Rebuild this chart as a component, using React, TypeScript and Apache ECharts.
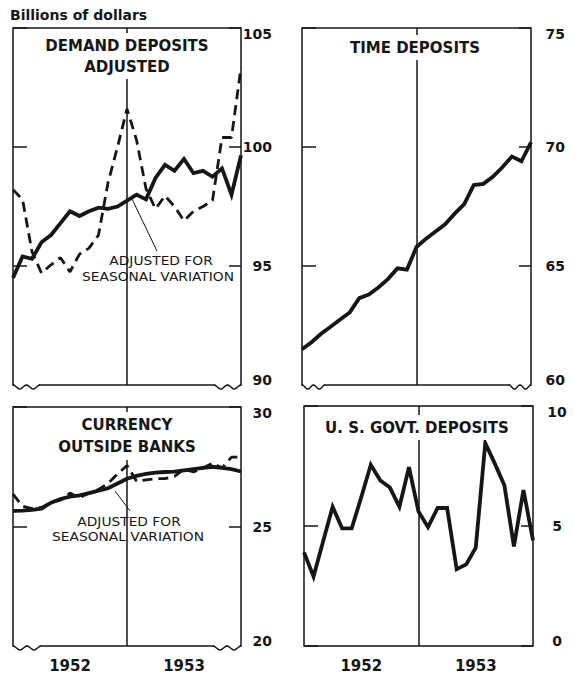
import React, { useEffect, useRef } from "react";
import * as echarts from "echarts";

// Monthly observations, end of Dec 1951 through end of Dec 1953
const months = [
  "1951-12", "1952-01", "1952-02", "1952-03", "1952-04", "1952-05", "1952-06",
  "1952-07", "1952-08", "1952-09", "1952-10", "1952-11", "1952-12",
  "1953-01", "1953-02", "1953-03", "1953-04", "1953-05", "1953-06",
  "1953-07", "1953-08", "1953-09", "1953-10", "1953-11", "1953-12",
];
const yearLabels = ["1952", "1953"];
const yearPositions = [6, 18];
const dividerAt = 12;

// Demand deposits adjusted (billions of dollars)
const demandAdjusted = [94.5, 95.4, 95.3, 96.0, 96.3, 96.8, 97.3, 97.1, 97.3, 97.45, 97.4, 97.5, 97.75, 98.0, 97.8, 98.7, 99.25, 99.0, 99.5, 98.9, 99.0, 98.75, 99.1, 98.0, 99.65];
const demandUnadjusted = [98.2, 97.8, 95.6, 94.7, 95.05, 95.35, 94.75, 95.5, 95.75, 96.3, 98.5, 100.0, 101.6, 100.3, 98.25, 97.4, 97.95, 97.5, 96.9, 97.3, 97.5, 97.75, 100.4, 100.4, 103.35];
// Time deposits
const timeDeposits = [61.5, 61.8, 62.15, 62.45, 62.75, 63.05, 63.65, 63.8, 64.1, 64.45, 64.9, 64.85, 65.8, 66.15, 66.45, 66.75, 67.2, 67.6, 68.4, 68.45, 68.75, 69.15, 69.6, 69.4, 70.2];
// Currency outside banks
const currencyAdjusted = [25.65, 25.66, 25.7, 25.75, 26.0, 26.15, 26.25, 26.3, 26.4, 26.5, 26.6, 26.8, 27.0, 27.12, 27.2, 27.25, 27.28, 27.3, 27.35, 27.4, 27.45, 27.5, 27.45, 27.4, 27.3];
const currencyUnadjusted = [26.35, 25.85, 25.75, 25.8, 26.0, 26.1, 26.4, 26.2, 26.4, 26.55, 26.8, 27.2, 27.55, 26.9, 26.95, 27.0, 27.0, 27.1, 27.4, 27.28, 27.45, 27.65, 27.45, 27.9, 27.9];
// U.S. Government deposits
const govtDeposits = [3.9, 2.9, 4.35, 5.8, 4.9, 4.9, 6.2, 7.55, 6.9, 6.6, 5.8, 7.45, 5.6, 4.95, 5.75, 5.75, 3.2, 3.4, 4.1, 8.45, 7.6, 6.7, 4.15, 6.5, 4.4];

const yRanges = [
  { min: 90, max: 105, interval: 5 },
  { min: 60, max: 75, interval: 5 },
  { min: 20, max: 30, interval: 5 },
  { min: 0, max: 10, interval: 5 },
];

const INK = "#161616";
const FONT = '"DejaVu Sans", sans-serif';

const pairs = (arr: number[]) => months.map((_, i) => [i, arr[i]]);

export default function App() {
  const ref = useRef<HTMLDivElement>(null);

  useEffect(() => {
    if (!ref.current) return;
    const chart = echarts.init(ref.current, undefined, { renderer: "svg" });

    const grids = [
      { left: 13, top: 28, width: 228, height: 357 },
      { left: 302, top: 28, width: 229, height: 357 },
      { left: 13, top: 407, width: 228, height: 239 },
      { left: 304, top: 406, width: 229, height: 240 },
    ].map((g) => ({
      ...g,
      show: true,
      borderColor: INK,
      borderWidth: 1.5,
      backgroundColor: "transparent",
      containLabel: false,
      outerBoundsMode: "none",
    }));

    const labelMargins = [31, 34, 31, 24];
    const labelAligns = ["right", "right", "right", "center"];

    const xAxes = grids.map((_, g) => ({
      type: "value",
      gridIndex: g,
      min: 0,
      max: months.length - 1,
      interval: 6,
      axisLine: { show: false },
      axisTick: { show: false },
      splitLine: { show: false },
      axisLabel: {
        show: g >= 2,
        margin: 12,
        color: INK,
        fontFamily: FONT,
        fontWeight: "bold",
        fontSize: 15,
        formatter: (v: number) => {
          const k = yearPositions.indexOf(v);
          return k >= 0 ? yearLabels[k] : "";
        },
      },
    }));

    const yAxes: any[] = [];
    yRanges.forEach((r, g) => {
      yAxes.push({
        type: "value",
        gridIndex: g,
        position: "left",
        min: r.min,
        max: r.max,
        interval: r.interval,
        axisLine: { show: false },
        axisTick: { show: true, inside: true, length: 14, lineStyle: { color: INK, width: 1.5 } },
        axisLabel: { show: false },
        splitLine: { show: false },
      });
      const richBase = { fontFamily: FONT, fontWeight: "bold", fontSize: 14, color: INK };
      yAxes.push({
        type: "value",
        gridIndex: g,
        position: "right",
        min: r.min,
        max: r.max,
        interval: r.interval,
        axisLine: { show: false },
        axisTick: { show: true, inside: true, length: 12, lineStyle: { color: INK, width: 1.5 } },
        splitLine: { show: false },
        axisLabel: {
          show: true,
          margin: labelMargins[g],
          align: labelAligns[g],
          ...richBase,
          formatter: (v: number) =>
            v === r.max ? `{hi|${v}}` : v === r.min ? `{lo|${v}}` : `{mid|${v}}`,
          rich: {
            hi: { ...richBase, padding: [11, 0, 0, 0] },
            lo: { ...richBase, padding: [0, 0, 11, 0] },
            mid: { ...richBase },
          },
        },
      });
    });

    const divider = (g: number, data: number[]) => ({
      type: "line",
      xAxisIndex: g,
      yAxisIndex: 2 * g + 1,
      data: pairs(data),
      showSymbol: false,
      silent: true,
      z: 1,
      lineStyle: { opacity: 0 },
      markLine: {
        silent: true,
        symbol: "none",
        label: { show: false },
        lineStyle: { color: INK, width: 1.5, type: "solid" },
        data: [{ xAxis: dividerAt }],
      },
    });

    const solid = (g: number, name: string, data: number[]) => ({
      name,
      type: "line",
      xAxisIndex: g,
      yAxisIndex: 2 * g + 1,
      data: pairs(data),
      showSymbol: false,
      z: 3,
      lineStyle: { color: INK, width: 3.8, join: "miter" },
    });
    const dashed = (g: number, name: string, data: number[]) => ({
      name,
      type: "line",
      xAxisIndex: g,
      yAxisIndex: 2 * g + 1,
      data: pairs(data),
      showSymbol: false,
      z: 2,
      lineStyle: { color: INK, width: 2.8, type: [10, 6] },
    });

    const series = [
      divider(0, demandAdjusted),
      dashed(0, "Demand deposits adjusted (unadjusted)", demandUnadjusted),
      solid(0, "Demand deposits adjusted (seasonally adjusted)", demandAdjusted),
      divider(1, timeDeposits),
      solid(1, "Time deposits", timeDeposits),
      divider(2, currencyAdjusted),
      dashed(2, "Currency outside banks (unadjusted)", currencyUnadjusted),
      solid(2, "Currency outside banks (seasonally adjusted)", currencyAdjusted),
      divider(3, govtDeposits),
      solid(3, "U. S. Govt. deposits", govtDeposits),
    ];

    const wave = (x0: number, y0: number, w: number) => {
      const pts: number[][] = [];
      for (let k = 0; k <= 24; k++) {
        const t = k / 24;
        pts.push([x0 + w * t, y0 + 2 * (1 - Math.cos(4 * Math.PI * t))]);
      }
      return [
        { type: "rect", z: 100, shape: { x: x0 + 1, y: y0 - 2, width: w - 2, height: 4 }, style: { fill: "#fff" } },
        { type: "polyline", z: 101, shape: { points: pts }, style: { stroke: INK, lineWidth: 1.5, fill: null } },
      ];
    };

    const titleStyle = {
      font: `bold 15px ${FONT}`,
      fill: INK,
      align: "center",
      verticalAlign: "top",
      lineHeight: 21,
      backgroundColor: "#fff",
      padding: [2, 5],
    };
    const note = (text: string, x: number, y: number) => ({
      type: "text",
      z: 100,
      x,
      y,
      scaleX: 1.15,
      style: { text, x: 0, y: 0, font: `12px ${FONT}`, fill: INK, align: "center", verticalAlign: "middle" },
    });

    const graphic: any[] = [
      { type: "text", z: 100, style: { text: "Billions of dollars", x: 10, y: 15, font: `bold 14px ${FONT}`, fill: INK, verticalAlign: "middle" } },
      { type: "text", z: 100, style: { ...titleStyle, text: "DEMAND DEPOSITS\nADJUSTED", x: 127, y: 33 } },
      { type: "text", z: 100, style: { ...titleStyle, text: "TIME DEPOSITS", x: 415, y: 35 } },
      { type: "text", z: 100, style: { ...titleStyle, text: "CURRENCY\nOUTSIDE BANKS", x: 127, y: 412, lineHeight: 22 } },
      { type: "text", z: 100, style: { ...titleStyle, text: "U. S. GOVT. DEPOSITS", x: 417, y: 415 } },
      note("ADJUSTED FOR", 161, 261),
      note("SEASONAL VARIATION", 158, 277),
      { type: "line", z: 100, shape: { x1: 132, y1: 199, x2: 157, y2: 251 }, style: { stroke: INK, lineWidth: 1 } },
      note("ADJUSTED FOR", 129, 522),
      note("SEASONAL VARIATION", 128, 537),
      { type: "line", z: 100, shape: { x1: 115, y1: 491, x2: 130, y2: 511 }, style: { stroke: INK, lineWidth: 1 } },
      ...wave(13, 385, 27),
      ...wave(214, 385, 27),
      ...wave(302, 385, 23),
      ...wave(509, 385, 22),
      ...wave(13, 646, 28),
      ...wave(213, 646, 28),
    ];

    chart.setOption({
      animation: false,
      backgroundColor: "#fff",
      grid: grids,
      xAxis: xAxes,
      yAxis: yAxes,
      series,
      graphic,
    });

    return () => chart.dispose();
  }, []);

  return (
    <div
      ref={ref}
      style={{ position: "fixed", left: 0, top: 0, width: 574, height: 675, background: "#fff" }}
    />
  );
}
